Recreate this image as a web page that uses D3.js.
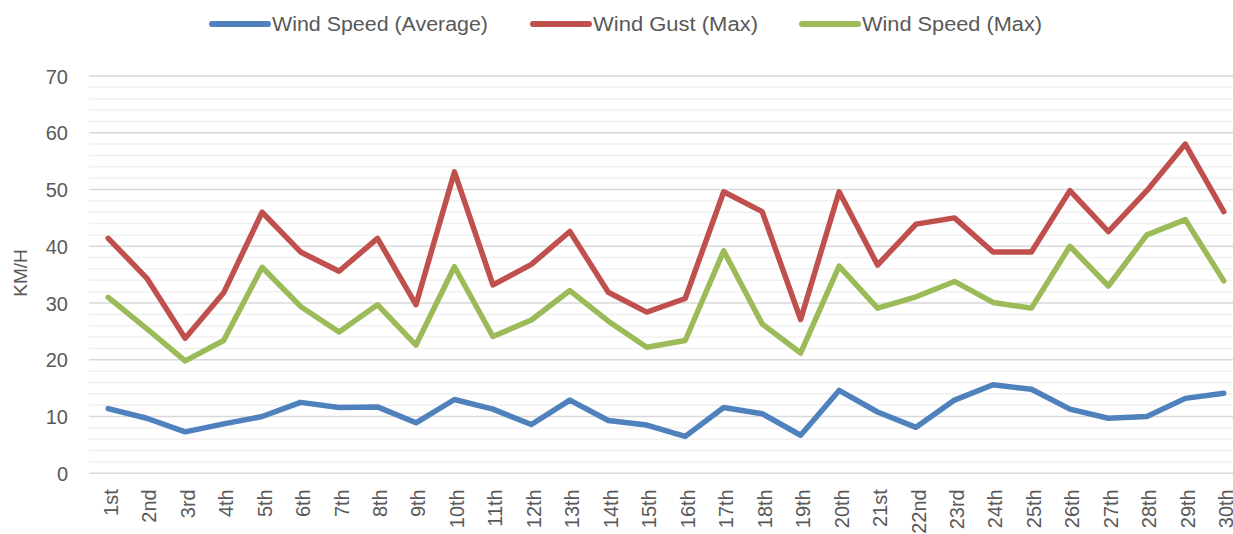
<!DOCTYPE html>
<html>
<head>
<meta charset="utf-8">
<script src="https://cdn.jsdelivr.net/npm/d3@7"></script>
<style>
  html, body { margin: 0; padding: 0; background: #fff; }
  svg { display: block; }
  text { font-family: "Liberation Sans", Arial, sans-serif; fill: #595959; }
</style>
</head>
<body>
<svg id="chart" width="1233" height="534"></svg>
<script>
const days = ["1st","2nd","3rd","4th","5th","6th","7th","8th","9th","10th",
  "11th","12th","13th","14th","15th","16th","17th","18th","19th","20th",
  "21st","22nd","23rd","24th","25th","26th","27th","28th","29th","30th"];

const windSpeedAvg = [11.4, 9.7, 7.3, 8.7, 10.0, 12.5, 11.6, 11.7, 8.9, 13.0,
  11.3, 8.6, 12.9, 9.3, 8.5, 6.5, 11.6, 10.5, 6.7, 14.6,
  10.8, 8.1, 12.9, 15.6, 14.8, 11.3, 9.7, 10.0, 13.2, 14.1];

const windGustMax = [41.4, 34.4, 23.8, 31.8, 46.0, 39.0, 35.6, 41.4, 29.7, 53.1,
  33.2, 36.8, 42.6, 31.9, 28.4, 30.8, 49.6, 46.1, 27.1, 49.6,
  36.7, 43.9, 45.0, 39.0, 39.0, 49.8, 42.6, 49.8, 58.0, 46.1];

const windSpeedMax = [31.0, 25.5, 19.8, 23.4, 36.3, 29.4, 24.9, 29.7, 22.6, 36.4,
  24.1, 27.0, 32.2, 26.8, 22.2, 23.4, 39.2, 26.3, 21.2, 36.5,
  29.1, 31.1, 33.8, 30.1, 29.1, 40.0, 33.0, 42.0, 44.7, 33.9];

const seriesNames = ["Wind Speed (Average)", "Wind Gust (Max)", "Wind Speed (Max)"];
const seriesColors = ["#4f81bd", "#c0504d", "#9bbb59"];
const yTicks = [0, 10, 20, 30, 40, 50, 60, 70];
const yTitle = "KM/H";

const series = [windSpeedAvg, windGustMax, windSpeedMax];

const svg = d3.select("#chart");
const plotLeft = 89, plotRight = 1243, plotTop = 76, plotBottom = 473.3;

const x = d3.scalePoint().domain(days).range([plotLeft, plotRight]).padding(0.5);
const y = d3.scaleLinear().domain([0, 70]).range([plotBottom, plotTop]);

// minor gridlines
const minor = d3.range(0, 71, 2).filter(v => v % 10 !== 0);
svg.append("g").selectAll("line").data(minor).join("line")
  .attr("x1", plotLeft).attr("x2", plotRight)
  .attr("y1", d => y(d)).attr("y2", d => y(d))
  .attr("stroke", "#f0f0f0").attr("stroke-width", 1.5);

// major gridlines
svg.append("g").selectAll("line").data(yTicks).join("line")
  .attr("x1", plotLeft).attr("x2", plotRight)
  .attr("y1", d => y(d)).attr("y2", d => y(d))
  .attr("stroke", "#d9d9d9").attr("stroke-width", 1.5);

// y axis labels
const yAxis = d3.axisLeft(y).tickValues(yTicks).tickSize(0).tickPadding(0);
const gy = svg.append("g").attr("transform", `translate(${plotLeft - 21},0)`).call(yAxis);
gy.select(".domain").remove();
gy.selectAll("text").style("font-size", "20px").attr("fill", "#595959")
  .attr("font-family", "Liberation Sans, Arial, sans-serif").attr("dy", "0.36em");

// y title
svg.append("text")
  .attr("transform", `translate(27,273) rotate(-90)`)
  .attr("text-anchor", "middle")
  .style("font-size", "19px")
  .text(yTitle);

// x axis labels
const xAxis = d3.axisBottom(x).tickSize(0).tickPadding(0);
const gx = svg.append("g").attr("transform", `translate(0,${plotBottom})`).call(xAxis);
gx.select(".domain").remove();
gx.selectAll("text")
  .style("font-size", "20px").attr("fill", "#595959")
  .attr("font-family", "Liberation Sans, Arial, sans-serif")
  .attr("text-anchor", "end")
  .attr("dy", null)
  .attr("y", 0)
  .attr("transform", "translate(9,16) rotate(-90)");

// lines
const line = d3.line().x((d, i) => x(days[i])).y(d => y(d));
svg.append("g").selectAll("path").data(series).join("path")
  .attr("d", d => line(d))
  .attr("fill", "none")
  .attr("stroke", (d, i) => seriesColors[i])
  .attr("stroke-width", 5.5)
  .attr("stroke-linejoin", "round")
  .attr("stroke-linecap", "round");

// legend
const legendX = [212, 533, 802];
const legendW = [216, 165, 180];
const lg = svg.append("g").selectAll("g").data(seriesNames).join("g")
  .attr("transform", (d, i) => `translate(${legendX[i]},24)`);
lg.append("line")
  .attr("x1", 0).attr("x2", 56).attr("y1", 0).attr("y2", 0)
  .attr("stroke", (d, i) => seriesColors[i])
  .attr("stroke-width", 6).attr("stroke-linecap", "round");
lg.append("text")
  .attr("x", 60).attr("y", 7)
  .style("font-size", "20px")
  .attr("textLength", (d, i) => legendW[i])
  .attr("lengthAdjust", "spacingAndGlyphs")
  .text(d => d);
</script>
</body>
</html>
